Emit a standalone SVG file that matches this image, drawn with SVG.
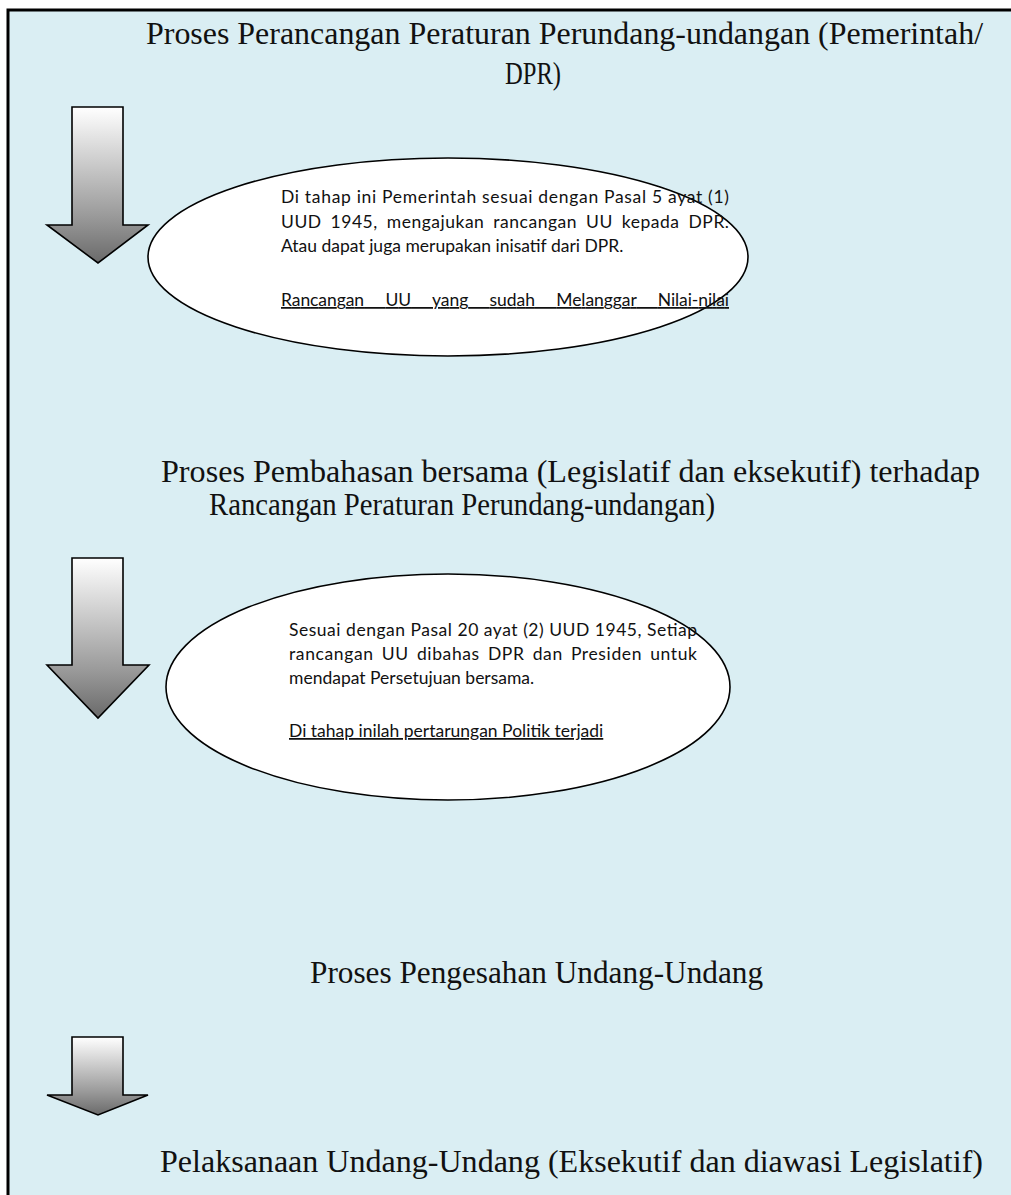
<svg xmlns="http://www.w3.org/2000/svg" width="1011" height="1195" viewBox="0 0 1011 1195">
<defs>
<linearGradient id="ag" x1="0" y1="0" x2="0" y2="1">
<stop offset="0" stop-color="#ffffff"/>
<stop offset="0.7" stop-color="#9a9a9a"/>
<stop offset="1" stop-color="#6a6a6a"/>
</linearGradient>
<style>
.bg{fill:#DAEEF3;stroke:#000;stroke-width:3}
.ttl{font-family:"Liberation Serif","DejaVu Serif",serif;font-size:32px;fill:#111}
.body{font-family:"Lato","Open Sans","Liberation Sans",sans-serif;font-size:17.5px;fill:#111}
.ul{text-decoration:underline}
.ell{fill:#fff;stroke:#000;stroke-width:1.6}
.arr{fill:url(#ag);stroke:#000;stroke-width:1.6;stroke-linejoin:miter}
</style>
</defs>
<rect class="bg" x="8" y="10" width="1010" height="1200"/>

<g id="title1">
<text class="ttl" x="146" y="44" textLength="837" lengthAdjust="spacingAndGlyphs">Proses Perancangan Peraturan Perundang-undangan (Pemerintah/</text>
<text class="ttl" x="505" y="84" textLength="56" lengthAdjust="spacingAndGlyphs">DPR)</text>
</g>

<g id="ellipse1">
<ellipse class="ell" cx="448" cy="257" rx="300" ry="99"/>
<text class="body" x="281" y="203" textLength="448" lengthAdjust="spacing">Di tahap ini Pemerintah sesuai dengan Pasal 5 ayat (1)</text>
<text class="body" x="281" y="228" textLength="448" lengthAdjust="spacing" word-spacing="4">UUD 1945, mengajukan rancangan UU kepada DPR.</text>
<text class="body" x="281" y="252">Atau dapat juga merupakan inisatif dari DPR.</text>
<text class="body ul" x="281" y="306" textLength="448" lengthAdjust="spacing" word-spacing="17">Rancangan UU yang sudah Melanggar Nilai-nilai</text>
</g>

<g id="title2">
<text class="ttl" x="161" y="482" textLength="819" lengthAdjust="spacingAndGlyphs">Proses Pembahasan bersama (Legislatif dan eksekutif) terhadap</text>
<text class="ttl" x="209" y="515" textLength="506" lengthAdjust="spacingAndGlyphs">Rancangan Peraturan Perundang-undangan)</text>
</g>

<g id="ellipse2">
<ellipse class="ell" cx="448" cy="687" rx="282" ry="113"/>
<text class="body" x="289" y="636" textLength="408" lengthAdjust="spacing">Sesuai dengan Pasal 20 ayat (2) UUD 1945, Setiap</text>
<text class="body" x="289" y="660" textLength="408" lengthAdjust="spacing" word-spacing="3">rancangan UU dibahas DPR dan Presiden untuk</text>
<text class="body" x="289" y="684">mendapat Persetujuan bersama.</text>
<text class="body ul" x="289" y="737">Di tahap inilah pertarungan Politik terjadi</text>
</g>

<g id="title3">
<text class="ttl" x="310" y="983" textLength="453" lengthAdjust="spacingAndGlyphs">Proses Pengesahan Undang-Undang</text>
</g>

<g id="title4">
<text class="ttl" x="160" y="1172" textLength="823" lengthAdjust="spacingAndGlyphs">Pelaksanaan Undang-Undang (Eksekutif dan diawasi Legislatif)</text>
</g>

<g id="connectors">
<g id="arrow1"><path class="arr" d="M72,107 H123 V225 H148 L98,263 L47,225 H72 Z"/></g>
<g id="arrow2"><path class="arr" d="M72,558 H123 V665 H149 L98,718 L47,665 H72 Z"/></g>
<g id="arrow3"><path class="arr" d="M72,1037 H123 V1095 H148 L98,1115 L47,1095 H72 Z"/></g>
</g>
</svg>
